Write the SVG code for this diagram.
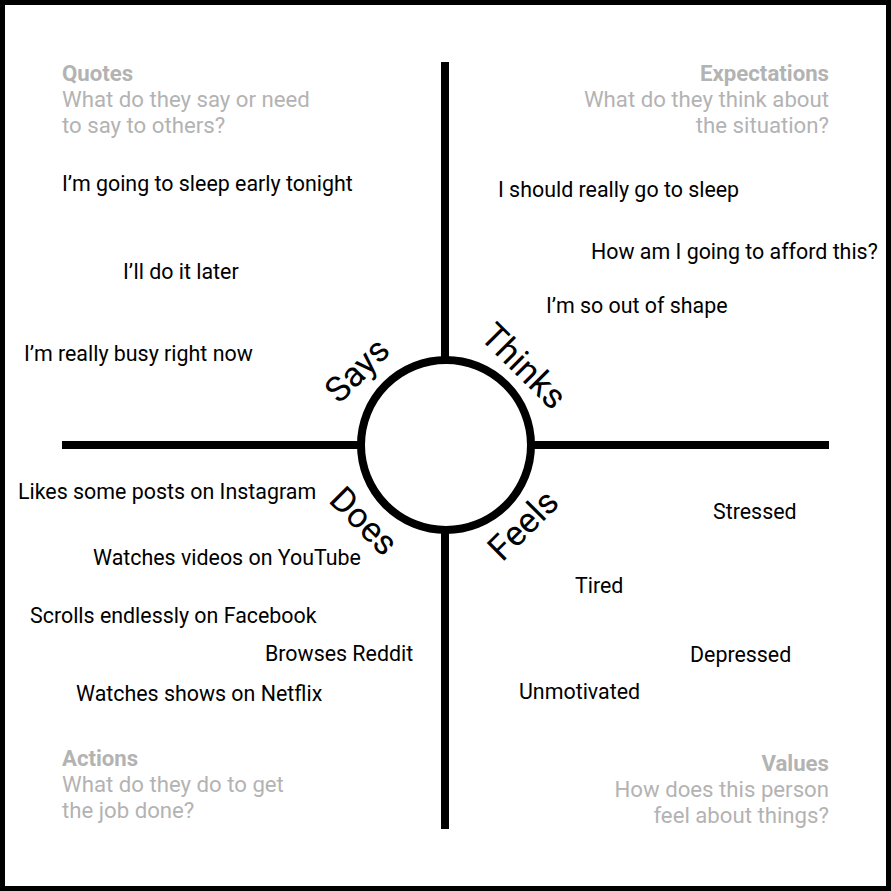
<svg xmlns="http://www.w3.org/2000/svg" width="891" height="891" viewBox="0 0 891 891">
<style>
.t{font-family:Roboto,"Liberation Sans",sans-serif;font-size:21.4px;fill:#000}
.h{font-family:Roboto,"Liberation Sans",sans-serif;font-size:22.2px;fill:#b3b3b3}
.hb{font-weight:bold}
.r{text-anchor:end}
.lab{font-family:Roboto,"Liberation Sans",sans-serif;font-size:35px;fill:#000;text-anchor:middle}
.ln{stroke:#000;stroke-width:8;fill:none}
</style>
<rect x="2.5" y="2.5" width="886" height="886" fill="#fff" stroke="#000" stroke-width="5"/>
<g id="axes">
<line class="ln" x1="445" y1="62" x2="445" y2="829"/>
<line class="ln" x1="62" y1="445" x2="829" y2="445"/>
</g>
<g id="center">
<circle cx="446" cy="445" r="85" fill="#fff" stroke="#000" stroke-width="8"/>
<text class="lab" transform="translate(357,370) rotate(-45)" y="12">Says</text>
<text class="lab" transform="translate(524,366) rotate(45)" y="12">Thinks</text>
<text class="lab" transform="translate(364,521) rotate(45)" y="12">Does</text>
<text class="lab" transform="translate(523,525) rotate(-45)" y="12">Feels</text>
</g>
<g id="says">
<text class="h hb" x="62" y="81">Quotes</text>
<text class="h" x="62" y="107">What do they say or need</text>
<text class="h" x="62" y="133">to say to others?</text>
<text class="t" x="62" y="191">I’m going to sleep early tonight</text>
<text class="t" x="123" y="279">I’ll do it later</text>
<text class="t" x="24" y="361">I’m really busy right now</text>
</g>
<g id="thinks">
<text class="h hb r" x="829" y="81">Expectations</text>
<text class="h r" x="829" y="107">What do they think about</text>
<text class="h r" x="829" y="133">the situation?</text>
<text class="t" x="498" y="197">I should really go to sleep</text>
<text class="t" x="591" y="259">How am I going to afford this?</text>
<text class="t" x="546" y="313">I’m so out of shape</text>
</g>
<g id="does">
<text class="h hb" x="62" y="766">Actions</text>
<text class="h" x="62" y="792">What do they do to get</text>
<text class="h" x="62" y="818">the job done?</text>
<text class="t" x="18" y="499">Likes some posts on Instagram</text>
<text class="t" x="93" y="565">Watches videos on YouTube</text>
<text class="t" x="30" y="623">Scrolls endlessly on Facebook</text>
<text class="t" x="265" y="661">Browses Reddit</text>
<text class="t" x="76" y="701">Watches shows on Netflix</text>
</g>
<g id="feels">
<text class="h hb r" x="829" y="771">Values</text>
<text class="h r" x="829" y="797">How does this person</text>
<text class="h r" x="829" y="823">feel about things?</text>
<text class="t" x="713" y="519">Stressed</text>
<text class="t" x="575" y="593">Tired</text>
<text class="t" x="690" y="662">Depressed</text>
<text class="t" x="519" y="699">Unmotivated</text>
</g>
</svg>
